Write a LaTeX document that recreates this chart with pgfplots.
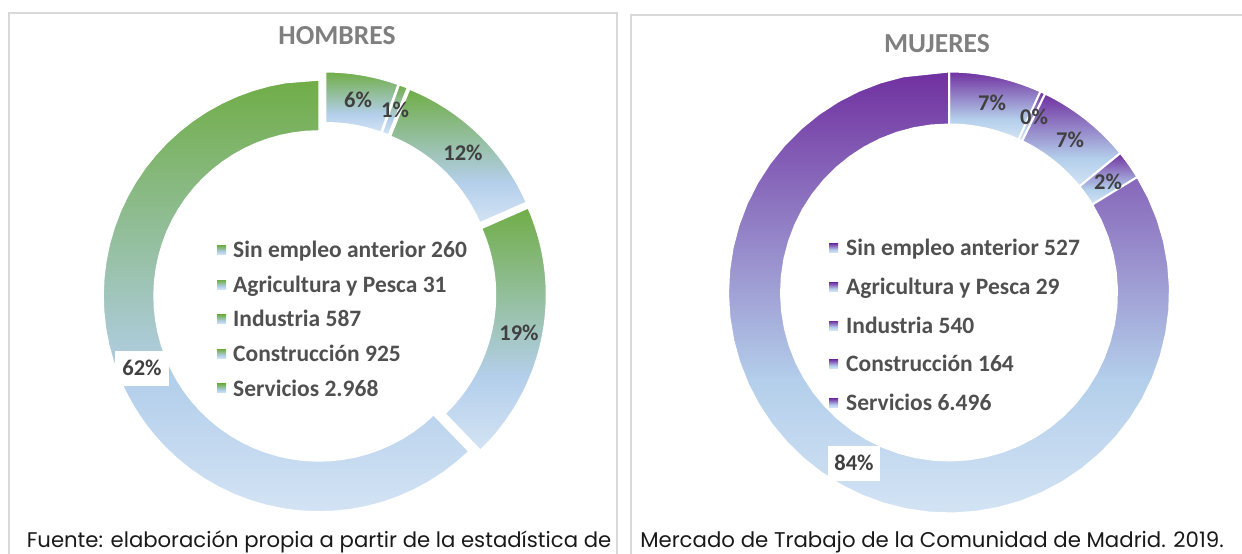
\documentclass[border=0pt]{standalone}
\usepackage{pgfplots}
\pgfplotsset{compat=1.18}
\usepackage{fontspec}
\setmainfont{Carlito}
\newfontfamily\capfont{Poppins}

\definecolor{hgreen}{HTML}{70AD47}
\definecolor{hblue}{HTML}{B4CFEB}
\definecolor{hbluel}{HTML}{D3E3F4}
\definecolor{mpurple}{HTML}{7030A0}
\definecolor{lblcol}{HTML}{404040}
\definecolor{legcol}{HTML}{505050}
\definecolor{titcol}{HTML}{7F7F7F}
\definecolor{frame}{HTML}{D9D9D9}

\pgfdeclareverticalshading{hshade}{100bp}{color(0bp)=(hbluel); color(25bp)=(hbluel); color(40bp)=(hblue); color(75bp)=(hgreen); color(100bp)=(hgreen)}
\pgfdeclareverticalshading{mshade}{100bp}{color(0bp)=(hbluel); color(25bp)=(hbluel); color(40bp)=(hblue); color(75bp)=(mpurple); color(100bp)=(mpurple)}

% data: HOMBRES
\newcommand\Ha{260}\newcommand\Hb{31}\newcommand\Hc{587}\newcommand\Hd{925}\newcommand\He{2968}
% data: MUJERES
\newcommand\Ma{527}\newcommand\Mb{29}\newcommand\Mc{540}\newcommand\Md{164}\newcommand\Me{6496}

\pgfmathsetmacro\Htot{\Ha+\Hb+\Hc+\Hd+\He}
\pgfmathsetmacro\HAa{360*(\Ha/\Htot)}
\pgfmathsetmacro\HAb{360*((\Ha+\Hb)/\Htot)}
\pgfmathsetmacro\HAc{360*((\Ha+\Hb+\Hc)/\Htot)}
\pgfmathsetmacro\HAd{360*((\Ha+\Hb+\Hc+\Hd)/\Htot)}
\pgfmathsetmacro\Mtot{\Ma+\Mb+\Mc+\Md+\Me}
\pgfmathsetmacro\MAa{360*(\Ma/\Mtot)}
\pgfmathsetmacro\MAb{360*((\Ma+\Mb)/\Mtot)}
\pgfmathsetmacro\MAc{360*((\Ma+\Mb+\Mc)/\Mtot)}
\pgfmathsetmacro\MAd{360*((\Ma+\Mb+\Mc+\Md)/\Mtot)}

% #1 cx, #2 cy, #3 Rout, #4 Rin, #5 a1, #6 a2, #7 explode, #8 shading, #9 border width
\newcommand\ringslice[9]{%
  \pgfmathsetmacro\sm{(#5+#6)/2}%
  \pgfmathsetmacro\ox{#1+#7*sin(\sm)}%
  \pgfmathsetmacro\oy{#2-#7*cos(\sm)}%
  \edef\doslice{\noexpand\addplot[shade, shading=#8, draw=white, line width=#9, mark=none,
    variable=\noexpand\t,
    samples at={0,0.02,...,0.98,1,1.00001,1.02,...,1.98,2}]
    ({\ox+(\noexpand\t<=1?#3:#4)*sin(\noexpand\t<=1?#5+\noexpand\t*(#6-#5):#6-(\noexpand\t-1)*(#6-#5))},
     {\oy-(\noexpand\t<=1?#3:#4)*cos(\noexpand\t<=1?#5+\noexpand\t*(#6-#5):#6-(\noexpand\t-1)*(#6-#5))}) -- cycle;}%
  \doslice}

\newcommand\legrow[5]{% x swatch, y center, text, shading, text x
  \fill[shading=#4] (axis cs:#1,#2-4.5) rectangle (axis cs:#1+9,#2+4.5);
  \node[anchor=base west, inner sep=0pt, text=legcol, font=\fontsize{23.5}{26}\selectfont\bfseries] at (axis cs:#5,#2+7.6) {#3};
}

\begin{document}
\begin{tikzpicture}
\begin{axis}[
  width=1242pt, height=554pt, scale only axis,
  xmin=0, xmax=1242, ymin=0, ymax=554, y dir=reverse,
  hide axis, clip=false,
]
\coordinate (BL) at (axis cs:0,554);
\coordinate (TR) at (axis cs:1242,0);
% frames
\draw[frame, line width=1.3pt] (axis cs:9,560) -- (axis cs:9,13) -- (axis cs:617,13) -- (axis cs:617,560);
\draw[frame, line width=1.3pt] (axis cs:631,560) -- (axis cs:631,15) -- (axis cs:1245,15);

% HOMBRES ring
\ringslice{324.6}{293.7}{216}{165}{0}{\HAa}{6}{hshade}{1.5pt}
\ringslice{324.6}{293.7}{216}{165}{\HAa}{\HAb}{6}{hshade}{1.5pt}
\ringslice{324.6}{293.7}{216}{165}{\HAb}{\HAc}{6}{hshade}{1.5pt}
\ringslice{324.6}{293.7}{216}{165}{\HAc}{\HAd}{6}{hshade}{1.5pt}
\ringslice{324.6}{293.7}{216}{165}{\HAd}{360}{6}{hshade}{1.5pt}

% MUJERES ring
\ringslice{949}{292.5}{221}{168}{0}{\MAa}{0}{mshade}{2pt}
\ringslice{949}{292.5}{221}{168}{\MAa}{\MAb}{0}{mshade}{2pt}
\ringslice{949}{292.5}{221}{168}{\MAb}{\MAc}{0}{mshade}{2pt}
\ringslice{949}{292.5}{221}{168}{\MAc}{\MAd}{0}{mshade}{2pt}
\ringslice{949}{292.5}{221}{168}{\MAd}{360}{0}{mshade}{2pt}

% titles
\node[anchor=base, inner sep=0pt, text=titcol, font=\fontsize{27.5}{30}\selectfont\bfseries] at (axis cs:337,44) {HOMBRES};
\node[anchor=base, inner sep=0pt, text=titcol, font=\fontsize{27.5}{30}\selectfont\bfseries] at (axis cs:937,52) {MUJERES};

% data labels HOMBRES
\begin{scope}[every node/.style={inner sep=0pt, text=lblcol, font=\fontsize{22.5}{25}\selectfont\bfseries}]
\node at (axis cs:358,100) {6\%};
\node at (axis cs:395,110) {1\%};
\node at (axis cs:463,153) {12\%};
\node at (axis cs:519,333) {19\%};
\node[fill=white, minimum width=54pt, minimum height=35pt] at (axis cs:142,368) {62\%};
% MUJERES
\node at (axis cs:992,103) {7\%};
\node at (axis cs:1034,117) {0\%};
\node at (axis cs:1070,140) {7\%};
\node at (axis cs:1108,182) {2\%};
\node[fill=white, minimum width=52pt, minimum height=35pt] at (axis cs:854,463) {84\%};
\end{scope}

% legends
\legrow{217}{250}{Sin empleo anterior 260}{hshade}{233}
\legrow{217}{284.6}{Agricultura y Pesca 31}{hshade}{233}
\legrow{217}{319.2}{Industria 587}{hshade}{233}
\legrow{217}{353.8}{Construcción 925}{hshade}{233}
\legrow{217}{388.4}{Servicios 2.968}{hshade}{233}

\legrow{829}{248}{Sin empleo anterior 527}{mshade}{846}
\legrow{829}{287}{Agricultura y Pesca 29}{mshade}{846}
\legrow{829}{325.5}{Industria 540}{mshade}{846}
\legrow{829}{364}{Construcción 164}{mshade}{846}
\legrow{829}{403}{Servicios 6.496}{mshade}{846}

% caption
\node[anchor=base, inner sep=0pt, text=black!90, font=\capfont\fontsize{21.2}{24}\selectfont] at (axis cs:319,547) {Fuente: elaboración propia a partir de la estadística de};
\node[anchor=base, inner sep=0pt, text=black!90, font=\capfont\fontsize{21.3}{24}\selectfont] at (axis cs:932,547) {Mercado de Trabajo de la Comunidad de Madrid. 2019.};
\end{axis}
\pgfresetboundingbox
\path[use as bounding box] (BL) rectangle (TR);
\end{tikzpicture}
\end{document}
